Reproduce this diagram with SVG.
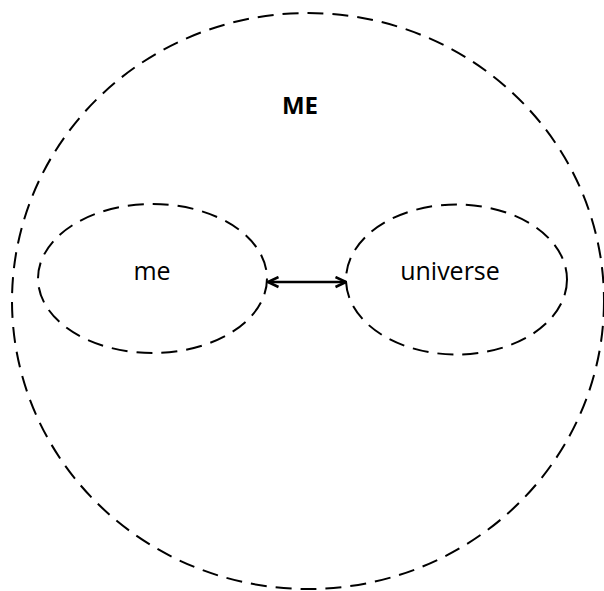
<svg xmlns="http://www.w3.org/2000/svg" width="604" height="591" viewBox="0 0 604 591">
<style>
.sh{fill:none;stroke:#000;stroke-width:2;stroke-dasharray:16 9}
.t{font-family:"Open Sans","Liberation Sans",sans-serif;font-size:25px;fill:#000;text-anchor:middle}
.b{font-weight:bold;font-size:24px}
.c{stroke:#000;stroke-width:2.5;fill:none}
</style>
<defs>
<marker id="ah" viewBox="0 0 13 13" refX="12" refY="6.5" markerWidth="13" markerHeight="13" markerUnits="userSpaceOnUse" orient="auto-start-reverse">
<path d="M1.5,1.5 L12,6.5 L1.5,11.5" fill="none" stroke="#000" stroke-width="2.5"/>
</marker>
</defs>
<rect width="604" height="591" fill="#fff"/>
<g id="ME">
<ellipse class="sh" cx="308" cy="301" rx="296" ry="288"/>
<text class="t b" x="300" y="114">ME</text>
</g>
<g id="me">
<ellipse class="sh" cx="152.5" cy="278.5" rx="114.5" ry="74.5"/>
<text class="t" x="152" y="280">me</text>
</g>
<g id="universe">
<ellipse class="sh" cx="456.5" cy="279.5" rx="110.5" ry="75"/>
<text class="t" x="450" y="280">universe</text>
</g>
<g id="connectors">
<line class="c" x1="268" y1="282" x2="346" y2="282" marker-start="url(#ah)" marker-end="url(#ah)"/>
</g>
</svg>
